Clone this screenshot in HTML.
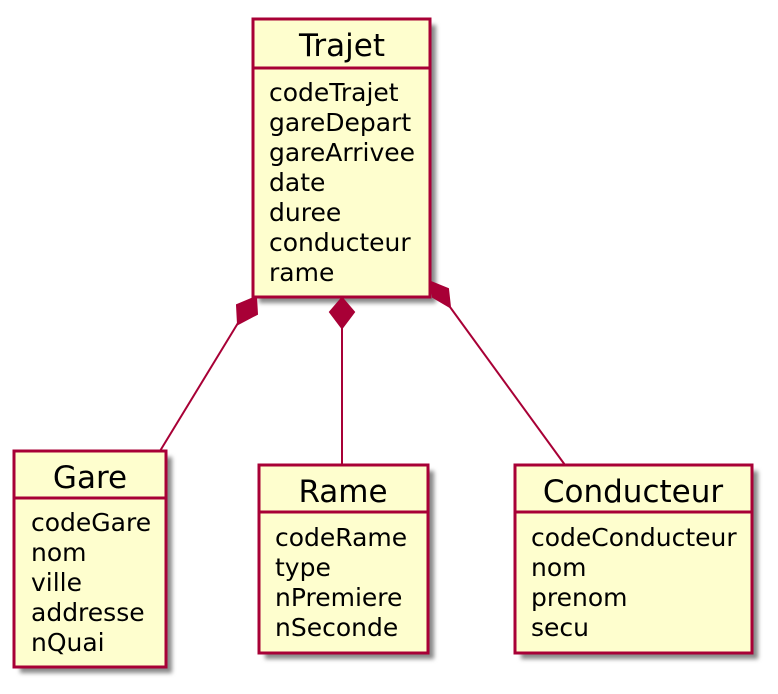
<!DOCTYPE html>
<html><head><meta charset="utf-8"><style>body{margin:0;background:#fff}svg{display:block}</style></head><body>
<svg width="778" height="694" xmlns="http://www.w3.org/2000/svg" font-family="'DejaVu Sans', sans-serif">
<defs><filter id="s" x="-10%" y="-10%" width="130%" height="130%"><feGaussianBlur stdDeviation="2"/></filter></defs>
<g fill="#888" filter="url(#s)">
<rect x="259" y="25" width="177" height="278"/>
<rect x="20" y="457" width="152" height="216"/>
<rect x="265" y="471" width="169" height="188"/>
<rect x="521" y="471" width="237" height="188"/>
</g>
<g stroke="#A80036" stroke-width="3" fill="#FEFECE">
<rect x="253" y="19" width="177" height="278"/>
<line x1="253" y1="68" x2="430" y2="68"/>
<rect x="14" y="451" width="152" height="216"/>
<line x1="14" y1="498" x2="166" y2="498"/>
<rect x="259" y="465" width="169" height="188"/>
<line x1="259" y1="512" x2="428" y2="512"/>
<rect x="515" y="465" width="237" height="188"/>
<line x1="515" y1="512" x2="752" y2="512"/>
</g>
<g stroke="#A80036" stroke-width="2" fill="#A80036">
<line x1="238" y1="323" x2="160" y2="451"/>
<polygon points="256,297 257,314 238,324 237,305"/>
<line x1="342" y1="328" x2="342" y2="465"/>
<polygon points="342,298 354,312 342,328 330,312"/>
<line x1="450" y1="307" x2="565" y2="465"/>
<polygon points="431,282 448,289 450,307 433,297"/>
</g>
<g fill="#000" font-size="31" text-anchor="middle">
<text x="342" y="56">Trajet</text>
<text x="90" y="488">Gare</text>
<text x="343" y="502">Rame</text>
<text x="633" y="502">Conducteur</text>
</g>
<g fill="#000" font-size="25">
<text x="269" y="101">codeTrajet</text>
<text x="269" y="131">gareDepart</text>
<text x="269" y="161">gareArrivee</text>
<text x="269" y="191">date</text>
<text x="269" y="221">duree</text>
<text x="269" y="251">conducteur</text>
<text x="269" y="281">rame</text>
<text x="31" y="531">codeGare</text>
<text x="31" y="561">nom</text>
<text x="31" y="591">ville</text>
<text x="31" y="621">addresse</text>
<text x="31" y="651">nQuai</text>
<text x="275" y="546">codeRame</text>
<text x="275" y="576">type</text>
<text x="275" y="606">nPremiere</text>
<text x="275" y="636">nSeconde</text>
<text x="531" y="546">codeConducteur</text>
<text x="531" y="576">nom</text>
<text x="531" y="606">prenom</text>
<text x="531" y="636">secu</text>
</g>
</svg>
</body></html>
